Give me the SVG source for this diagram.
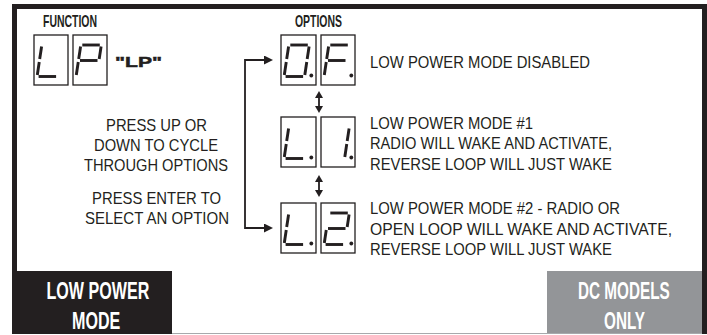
<svg xmlns="http://www.w3.org/2000/svg" width="707" height="335" viewBox="0 0 707 335">
<style>
.frame{fill:#231f20}
.box{fill:#fff;stroke:#231f20;stroke-width:1.3}
.seg{stroke:#231f20;stroke-width:2.9;stroke-linecap:butt}
.dp{fill:#231f20}
.t{font-family:"Liberation Sans",Arial,sans-serif;font-size:17px;fill:#231f20}
.h{font-family:"Liberation Sans",Arial,sans-serif;font-size:16.5px;font-weight:bold;fill:#231f20}
.lbl{font-family:"Liberation Sans",Arial,sans-serif;font-size:23px;font-weight:bold;fill:#fff}
.conn{fill:none;stroke:#231f20;stroke-width:1.8}
</style>
<defs>
<line id="a" class="seg" x1="9.3" y1="10" x2="26.8" y2="10"/>
<line id="b" class="seg" x1="28.1" y1="11.5" x2="26.2" y2="24"/>
<line id="c" class="seg" x1="25.75" y1="27" x2="23.8" y2="40"/>
<line id="d" class="seg" x1="4.6" y1="41.5" x2="22.1" y2="41.5"/>
<line id="e" class="seg" x1="5.25" y1="27" x2="3.3" y2="40"/>
<line id="f" class="seg" x1="7.6" y1="11.5" x2="5.7" y2="24"/>
<line id="g" class="seg" x1="7" y1="25.5" x2="24.5" y2="25.5"/>
<circle id="p" class="dp" cx="30.3" cy="40.5" r="1.9"/>
<marker id="ah" viewBox="0 0 10 10" refX="0" refY="5" markerUnits="userSpaceOnUse" markerWidth="9" markerHeight="9" orient="auto-start-reverse">
<path d="M0,0 L10,5 L0,10 z" fill="#231f20"/>
</marker>
<marker id="ah2" viewBox="0 0 10 10" refX="0" refY="5" markerUnits="userSpaceOnUse" markerWidth="7" markerHeight="8" orient="auto-start-reverse" preserveAspectRatio="none">
<path d="M0,0 L10,5 L0,10 z" fill="#231f20"/>
</marker>
</defs>

<g id="frame">
<rect class="frame" x="12" y="4" width="695" height="5"/>
<rect class="frame" x="12" y="4" width="5" height="270"/>
<rect class="frame" x="702" y="4" width="5" height="330"/>
<line x1="172" y1="333.5" x2="702" y2="333.5" stroke="#a7a9ac" stroke-width="1"/>
</g>

<g id="function-label">
<text class="h" x="43" y="27" textLength="54" lengthAdjust="spacingAndGlyphs">FUNCTION</text>
</g>
<g id="options-label">
<text class="h" x="295" y="27" textLength="47" lengthAdjust="spacingAndGlyphs">OPTIONS</text>
</g>

<g id="display-LP">
<rect class="box" x="34" y="35" width="34" height="50"/>
<rect class="box" x="73" y="35" width="34" height="50"/>
<g transform="translate(34,35)"><use href="#f"/><use href="#e"/><use href="#d"/></g>
<g transform="translate(73,35)"><use href="#a"/><use href="#b"/><use href="#f"/><use href="#g"/><use href="#e"/></g>
<text x="115" y="67" font-family="Liberation Sans,Arial,sans-serif" font-size="15.5" font-weight="900" fill="#231f20" stroke="#231f20" stroke-width="0.5" textLength="47" lengthAdjust="spacingAndGlyphs">"LP"</text>
</g>

<g id="display-OF">
<rect class="box" x="281" y="35" width="35" height="50"/>
<rect class="box" x="321" y="35" width="34" height="50"/>
<g transform="translate(281,35)"><use href="#a"/><use href="#b"/><use href="#c"/><use href="#d"/><use href="#e"/><use href="#f"/><use href="#p"/></g>
<g transform="translate(321,35)"><use href="#a"/><use href="#f"/><use href="#g"/><use href="#e"/><use href="#p"/></g>
</g>

<g id="display-L1">
<rect class="box" x="281" y="117" width="35" height="50"/>
<rect class="box" x="321" y="117" width="34" height="50"/>
<g transform="translate(281,117)"><use href="#f"/><use href="#e"/><use href="#d"/><use href="#p"/></g>
<g transform="translate(321,117)"><use href="#b"/><use href="#c"/><use href="#p"/></g>
</g>

<g id="display-L2">
<rect class="box" x="281" y="203" width="35" height="50"/>
<rect class="box" x="321" y="203" width="34" height="50"/>
<g transform="translate(281,203)"><use href="#f"/><use href="#e"/><use href="#d"/><use href="#p"/></g>
<g transform="translate(321,203)"><use href="#a"/><use href="#b"/><use href="#g"/><use href="#e"/><use href="#d"/><use href="#p"/></g>
</g>

<g id="connectors">
<path class="conn" d="M264,60 H245 V228 H264" marker-start="url(#ah)" marker-end="url(#ah)"/>
<path class="conn" d="M319,98 V106" marker-start="url(#ah2)" marker-end="url(#ah2)"/>
<path class="conn" d="M319,182 V190" marker-start="url(#ah2)" marker-end="url(#ah2)"/>
</g>

<g id="instructions">
<text class="t" x="106" y="130.5" textLength="101" lengthAdjust="spacingAndGlyphs">PRESS UP OR</text>
<text class="t" x="94" y="150.5" textLength="124" lengthAdjust="spacingAndGlyphs">DOWN TO CYCLE</text>
<text class="t" x="84" y="170.5" textLength="144" lengthAdjust="spacingAndGlyphs">THROUGH OPTIONS</text>
<text class="t" x="92" y="204" textLength="129" lengthAdjust="spacingAndGlyphs">PRESS ENTER TO</text>
<text class="t" x="85" y="224" textLength="144" lengthAdjust="spacingAndGlyphs">SELECT AN OPTION</text>
</g>

<g id="desc-OF">
<text class="t" x="370" y="68" textLength="220" lengthAdjust="spacingAndGlyphs">LOW POWER MODE DISABLED</text>
</g>
<g id="desc-L1">
<text class="t" x="370" y="128.5" textLength="163" lengthAdjust="spacingAndGlyphs">LOW POWER MODE #1</text>
<text class="t" x="370" y="149" textLength="242" lengthAdjust="spacingAndGlyphs">RADIO WILL WAKE AND ACTIVATE,</text>
<text class="t" x="370" y="169.5" textLength="242" lengthAdjust="spacingAndGlyphs">REVERSE LOOP WILL JUST WAKE</text>
</g>
<g id="desc-L2">
<text class="t" x="370" y="214" textLength="250" lengthAdjust="spacingAndGlyphs">LOW POWER MODE #2 - RADIO OR</text>
<text class="t" x="370" y="234.5" textLength="302" lengthAdjust="spacingAndGlyphs">OPEN LOOP WILL WAKE AND ACTIVATE,</text>
<text class="t" x="370" y="255" textLength="242" lengthAdjust="spacingAndGlyphs">REVERSE LOOP WILL JUST WAKE</text>
</g>

<g id="tag-low-power-mode">
<rect class="frame" x="12" y="271" width="160" height="63"/>
<text class="lbl" transform="translate(46.5,299) scale(0.7,1)" x="0" y="0">LOW POWER</text>
<text class="lbl" transform="translate(72,328.5) scale(0.7,1)" x="0" y="0">MODE</text>
</g>
<g id="tag-dc-models">
<rect x="547" y="271" width="155" height="62" fill="#939598"/>
<text class="lbl" transform="translate(578,299) scale(0.665,1)" x="0" y="0">DC MODELS</text>
<text class="lbl" transform="translate(604,328.5) scale(0.665,1)" x="0" y="0">ONLY</text>
</g>
</svg>
